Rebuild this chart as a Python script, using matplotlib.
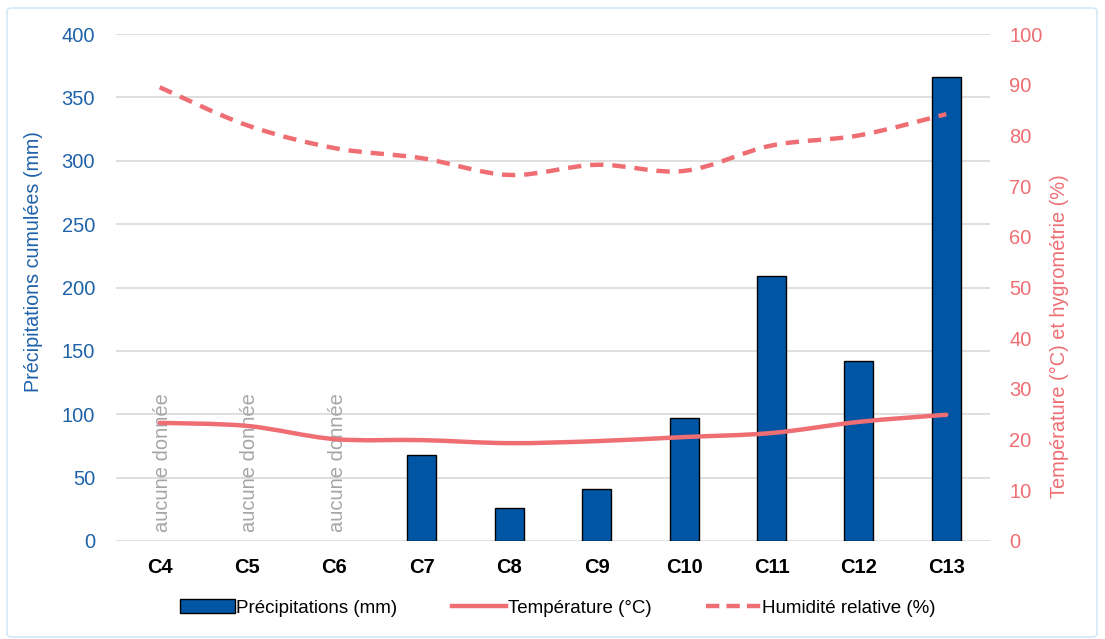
import matplotlib
matplotlib.use("Agg")
import matplotlib.pyplot as plt
from matplotlib.path import Path
from matplotlib.patches import PathPatch, Patch, FancyBboxPatch
from matplotlib.lines import Line2D
import numpy as np

plt.rcParams['font.family'] = ['Liberation Sans', 'DejaVu Sans']

categories = ["C4", "C5", "C6", "C7", "C8", "C9", "C10", "C11", "C12", "C13"]
precip = [np.nan, np.nan, np.nan, 68, 26, 41, 97, 209, 142, 366]
temperature = [23.3, 22.7, 20.1, 19.9, 19.3, 19.7, 20.5, 21.3, 23.5, 24.9]
humidity = [89.5, 82.0, 77.5, 75.5, 72.2, 74.2, 73.0, 78.0, 80.0, 84.2]
no_data_label = "aucune donnée"

BLUE = "#0055A4"
PINK = "#EE6E73"
TICK_BLUE = "#1F62A8"
GRID = "#D9D9D9"
FS = 14.5

fig = plt.figure(figsize=(11.05, 6.39), dpi=100)
border = FancyBboxPatch((7/1105, 2/639), 1090/1105, 629/639, boxstyle="round,pad=0,rounding_size=0.005",
                        transform=fig.transFigure, fill=False, edgecolor="#D4E9F7", linewidth=1.2)
fig.patches.append(border)

ax = fig.add_axes([116/1105, 1 - 541/639, 874/1105, 507/639])
ax2 = ax.twinx()

x = np.arange(len(categories))
ax.set_xlim(-0.5, len(categories) - 0.5)
ax.set_ylim(0, 400)
ax2.set_ylim(0, 100)
ax.set_yticks(np.arange(0, 401, 50))
ax2.set_yticks(np.arange(0, 101, 10))

ax.grid(axis="y", color=GRID, linewidth=1.2)
ax.set_axisbelow(True)
for a in (ax, ax2):
    for s in a.spines.values():
        s.set_visible(False)
    a.tick_params(length=0)

ax.bar(x, precip, width=0.33, color=BLUE, edgecolor="black", linewidth=1.0, zorder=2)

ax.set_xticks(x)
ax.set_xticklabels(categories, fontsize=FS, fontweight="bold", color="black")
ax.tick_params(axis="x", pad=12)
ax.tick_params(axis="y", labelsize=FS, labelcolor=TICK_BLUE, pad=15)
ax2.tick_params(axis="y", labelsize=FS, labelcolor=PINK, pad=14)

fig.text(34/1105, 1 - 262/639, "Précipitations cumulées (mm)", rotation=90, ha="center", va="center",
         fontsize=14.2, color=TICK_BLUE)
fig.text(1059/1105, 1 - 336/639, "Température (°C) et hygrométrie (%)", rotation=90, ha="center",
         va="center", fontsize=14.4, color=PINK)

for i, v in enumerate(precip):
    if np.isnan(v):
        ax.text(x[i] + 0.03, 7, no_data_label, rotation=90, ha="center", va="bottom",
                fontsize=FS, color="#A6A6A6", zorder=1)


def smooth_path(xs, ys, t=0.5):
    xs = np.asarray(xs, float); ys = np.asarray(ys, float)
    n = len(xs)
    verts = [(xs[0], ys[0])]
    codes = [Path.MOVETO]
    for i in range(n - 1):
        p0 = np.array([xs[max(i - 1, 0)], ys[max(i - 1, 0)]])
        p1 = np.array([xs[i], ys[i]])
        p2 = np.array([xs[i + 1], ys[i + 1]])
        p3 = np.array([xs[min(i + 2, n - 1)], ys[min(i + 2, n - 1)]])
        c1 = p1 + (p2 - p0) * t / 3
        c2 = p2 - (p3 - p1) * t / 3
        verts += [tuple(c1), tuple(c2), tuple(p2)]
        codes += [Path.CURVE4] * 3
    return Path(verts, codes)


ax2.add_patch(PathPatch(smooth_path(x, temperature), fill=False, edgecolor=PINK,
                        linewidth=3.2, capstyle="round", zorder=3))
ax2.add_patch(PathPatch(smooth_path(x, humidity), fill=False, edgecolor=PINK,
                        linewidth=3.2, linestyle=(0, (3, 2)), zorder=3))

handles = [Patch(facecolor=BLUE, edgecolor="black", linewidth=1.0),
           Line2D([], [], color=PINK, linewidth=3.2),
           Line2D([], [], color=PINK, linewidth=3.2, linestyle=(0, (3, 1.6)))]
labels = ["Précipitations (mm)", "Température (°C)", "Humidité relative (%)"]
fig.legend(handles, labels, loc="center", bbox_to_anchor=(558/1105, 1 - 608/639), ncol=3,
           frameon=False, fontsize=13.5, handlelength=2.9, handletextpad=0.1, columnspacing=2.9)

fig.savefig("out.png", dpi=100)
